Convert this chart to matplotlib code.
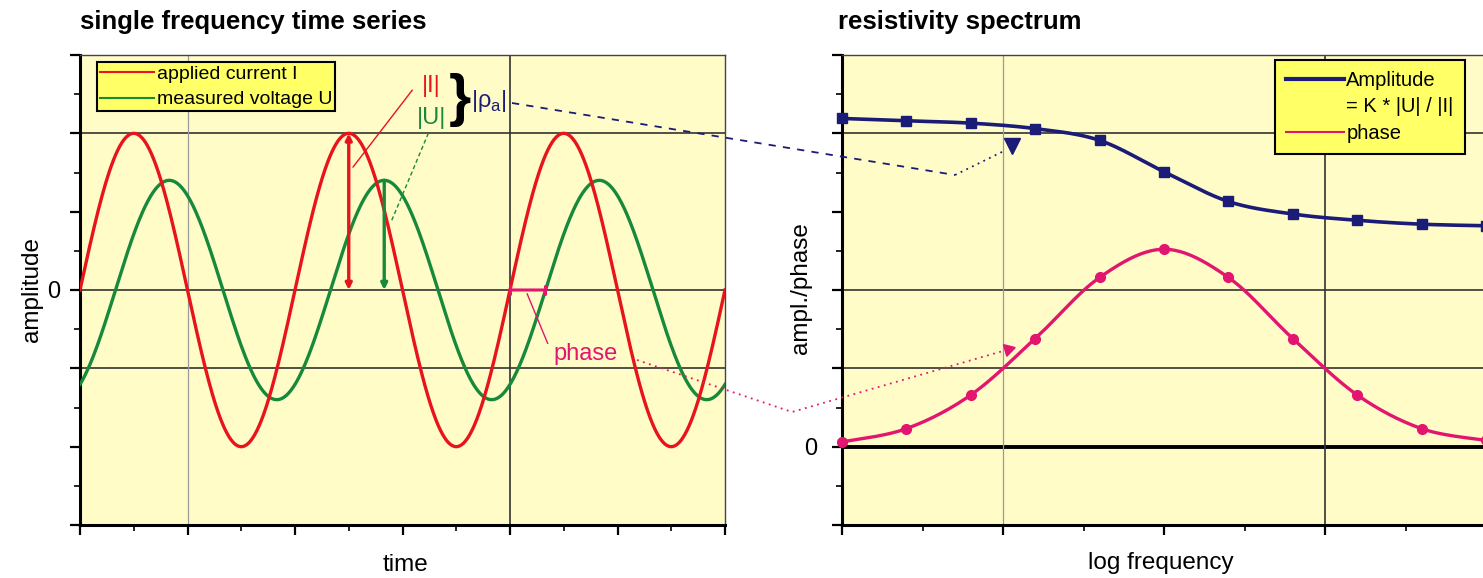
import numpy as np
import matplotlib
matplotlib.use("Agg")
import matplotlib.pyplot as plt
from matplotlib.lines import Line2D

plt.rcParams['font.family'] = ['Liberation Sans', 'DejaVu Sans']

# ---------------- data ----------------
# left panel: single frequency time series (time in units of the major tick spacing)
period = 2.0
amp_current = 2.0
amp_voltage = 1.4
phase_shift = 0.33

# right panel: resistivity spectrum
log_freq = [0.0, 0.4, 0.8, 1.2, 1.6, 2.0, 2.4, 2.8, 3.2, 3.6, 4.0]
amplitude = [4.19, 4.16, 4.13, 4.06, 3.91, 3.51, 3.13, 2.97, 2.89, 2.84, 2.82]
phase = [0.06, 0.23, 0.66, 1.38, 2.16, 2.52, 2.16, 1.38, 0.66, 0.23, 0.08]

RED = '#e8141c'
GREEN = '#17893a'
NAVY = '#1b1b78'
PINK = '#e2156f'
BG = '#fffcc8'
LEGBG = '#ffff66'

W, H = 1483, 578


def fx(px):
    return px / W


def fy(py):
    return 1 - py / H


def smooth(x, y, n=24):
    # catmull-rom curve through the points (like the smoothed lines of a spreadsheet)
    pts = np.column_stack([x, y]).astype(float)
    p = np.vstack([pts[0], pts, pts[-1]])
    out = []
    t = np.linspace(0, 1, n, endpoint=False)[:, None]
    for i in range(1, len(p) - 2):
        p0, p1, p2, p3 = p[i - 1], p[i], p[i + 1], p[i + 2]
        seg = 0.5 * (2 * p1 + (-p0 + p2) * t + (2 * p0 - 5 * p1 + 4 * p2 - p3) * t ** 2
                     + (-p0 + 3 * p1 - 3 * p2 + p3) * t ** 3)
        out.append(seg)
    out.append(pts[-1][None])
    s = np.vstack(out)
    return s[:, 0], s[:, 1]


def style_axes(ax):
    ax.set_facecolor(BG)
    for s in ['left', 'bottom']:
        ax.spines[s].set_linewidth(2.2)
        ax.spines[s].set_color('black')
    for s in ['top', 'right']:
        ax.spines[s].set_linewidth(1.0)
        ax.spines[s].set_color('#444444')
    ax.tick_params(which='major', direction='out', length=7, width=1.6, labelsize=17)
    ax.tick_params(which='minor', direction='out', length=4, width=1.2)
    ax.tick_params(top=False, right=False, which='both')


fig = plt.figure(figsize=(W / 100, H / 100), dpi=100)

# ---------------- left panel ----------------
ax1 = fig.add_axes([fx(80), fy(525), (725 - 80) / W, (525 - 55) / H])
style_axes(ax1)
t = np.linspace(0, 6, 1200)
current = amp_current * np.sin(2 * np.pi * t / period)
voltage = amp_voltage * np.sin(2 * np.pi * (t - phase_shift) / period)

for yv in [2, 0, -1]:
    ax1.axhline(yv, color='#333333', lw=1.2, zorder=1)
ax1.axvline(1, color='#9a9a9a', lw=0.9, zorder=1)
ax1.axvline(4, color='#333333', lw=1.2, zorder=1)

ax1.plot(t, voltage, color=GREEN, lw=2.4, zorder=3)
ax1.plot(t, current, color=RED, lw=2.4, zorder=4)

ax1.set_xlim(0, 6)
ax1.set_ylim(-3, 3)
ax1.set_xticks(np.arange(0, 7, 1))
ax1.set_xticks(np.arange(0.5, 6, 1), minor=True)
ax1.set_xticklabels([])
ax1.set_yticks(np.arange(-3, 4, 1))
ax1.set_yticks(np.arange(-2.5, 3, 1), minor=True)
ax1.set_yticklabels(['', '', '', '0', '', '', ''])
ax1.tick_params(axis='y', pad=7)

ax1.set_xlabel('time', fontsize=17.5)
ax1.xaxis.set_label_coords(0.504, -0.062)
ax1.set_ylabel('amplitude', fontsize=17.5)
ax1.yaxis.set_label_coords(-0.058, 0.5)

# |I| and |U| arrows at the second peak of each wave
i_peak = period / 4 + period
u_peak = i_peak + phase_shift
ax1.annotate('', xy=(i_peak, 0), xytext=(i_peak, amp_current),
             arrowprops=dict(arrowstyle='<|-|>', color=RED, lw=2.4, mutation_scale=9,
                             shrinkA=0, shrinkB=0), zorder=5)
ax1.annotate('', xy=(u_peak, 0), xytext=(u_peak, amp_voltage),
             arrowprops=dict(arrowstyle='-|>', color=GREEN, lw=2.4, mutation_scale=9,
                             shrinkA=0, shrinkB=0), zorder=5)
ax1.plot([2.54, 3.09], [1.57, 2.55], color=RED, lw=1.0, zorder=5)
ax1.plot([2.90, 3.24], [0.89, 2.0], color=GREEN, lw=1.0, ls=(0, (3, 2)), zorder=5)
ax1.text(3.27, 2.60, '|I|', color=RED, fontsize=17, ha='center', va='center')
ax1.text(3.27, 2.20, '|U|', color=GREEN, fontsize=17, ha='center', va='center')
ax1.text(3.53, 2.42, '}', color='black', fontsize=41, fontweight='bold',
         ha='center', va='center')
ax1.text(3.80, 2.41, r'|ρ$_\mathregular{a}$|', color=NAVY, fontsize=17,
         ha='center', va='center')

# phase marker
ax1.annotate('', xy=(4.0 + phase_shift, 0), xytext=(4.0, 0),
             arrowprops=dict(arrowstyle='|-|', color=PINK, lw=2.2, mutation_scale=3,
                             shrinkA=0, shrinkB=0), zorder=6)
ax1.plot([4.16, 4.35], [-0.05, -0.68], color=PINK, lw=1.0, zorder=6)
ax1.text(4.70, -0.82, 'phase', color=PINK, fontsize=17, ha='center', va='center')

leg1 = ax1.legend(handles=[Line2D([], [], color=RED, lw=1.5),
                           Line2D([], [], color=GREEN, lw=1.5)],
                  labels=['applied current I', 'measured voltage U'],
                  loc='upper left', bbox_to_anchor=(0.026, 0.985), fontsize=14,
                  frameon=True, fancybox=False, framealpha=1, facecolor=LEGBG,
                  edgecolor='black', handlelength=2.8, handletextpad=0.15,
                  borderpad=0.15, labelspacing=0.42, borderaxespad=0)
leg1.get_frame().set_linewidth(1.5)

# ---------------- right panel ----------------
ax2 = fig.add_axes([fx(842), fy(525), 644 / W, (525 - 55) / H])
style_axes(ax2)
for yv in [4, 2, 1]:
    ax2.axhline(yv, color='#333333', lw=1.2, zorder=1)
ax2.axhline(0, color='black', lw=2.8, zorder=1)
ax2.axvline(1, color='#9a9a9a', lw=0.9, zorder=1)
ax2.axvline(3, color='#333333', lw=1.2, zorder=1)

sx, sy = smooth(log_freq, amplitude)
ax2.plot(sx, sy, color=NAVY, lw=2.6, zorder=3, clip_on=False)
ax2.plot(log_freq, amplitude, ls='none', marker='s', ms=7, color=NAVY, zorder=4,
         clip_on=False)
px_, py_ = smooth(log_freq, phase)
ax2.plot(px_, py_, color=PINK, lw=2.4, zorder=3, clip_on=False)
ax2.plot(log_freq, phase, ls='none', marker='o', ms=7, color=PINK, zorder=4,
         clip_on=False)

ax2.set_xlim(0, 4)
ax2.set_ylim(-1, 5)
ax2.set_xticks(np.arange(0, 5, 1))
ax2.set_xticks(np.arange(0.5, 4, 1), minor=True)
ax2.set_xticklabels([])
ax2.set_yticks(np.arange(-1, 6, 1))
ax2.set_yticks(np.arange(-0.5, 5, 1), minor=True)
ax2.set_yticklabels(['', '0', '', '', '', '', ''])
ax2.tick_params(axis='y', pad=11)

ax2.set_xlabel('log frequency', fontsize=17.5)
ax2.xaxis.set_label_coords(0.495, -0.058)
ax2.set_ylabel('ampl./phase', fontsize=17.5)
ax2.yaxis.set_label_coords(-0.047, 0.505)

leg2 = ax2.legend(handles=[Line2D([], [], color=NAVY, lw=3),
                           Line2D([], [], color='none'),
                           Line2D([], [], color=PINK, lw=1.5)],
                  labels=['Amplitude', '= K * |U| / |I|', 'phase'],
                  loc='upper left', bbox_to_anchor=(0.672, 0.989), fontsize=14.5,
                  frameon=True, fancybox=False, framealpha=1, facecolor=LEGBG,
                  edgecolor='black', handlelength=2.9, handletextpad=0.1,
                  borderpad=0.55, labelspacing=0.36, borderaxespad=0)
leg2.get_frame().set_linewidth(1.5)

# ---------------- connectors between the panels ----------------
fig.add_artist(Line2D([fx(512), fx(955)], [fy(103), fy(175)], color=NAVY, lw=1.3,
                      ls=(0, (4, 4)), zorder=5))
fig.add_artist(Line2D([fx(955), fx(1006)], [fy(175), fy(150)], color=NAVY, lw=1.3,
                      ls=(0, (1, 2.5)), zorder=5))
fig.add_artist(Line2D([fx(1012)], [fy(146)], color=NAVY, marker='v', ms=11,
                      ls='none', zorder=5))
fig.add_artist(Line2D([fx(637), fx(792), fx(1003)], [fy(360), fy(412), fy(351)],
                      color=PINK, lw=1.3, ls=(0, (1, 2.5)), zorder=5))
fig.add_artist(Line2D([fx(1008)], [fy(349)], color=PINK, marker=(3, 0, -74), ms=10,
                      ls='none', zorder=5))

# ---------------- titles ----------------
fig.text(fx(80), fy(22), 'single frequency time series', fontsize=18.5,
         fontweight='bold', ha='left', va='center')
fig.text(fx(838), fy(22), 'resistivity spectrum', fontsize=18.5,
         fontweight='bold', ha='left', va='center')

fig.savefig('out.png', dpi=100)
